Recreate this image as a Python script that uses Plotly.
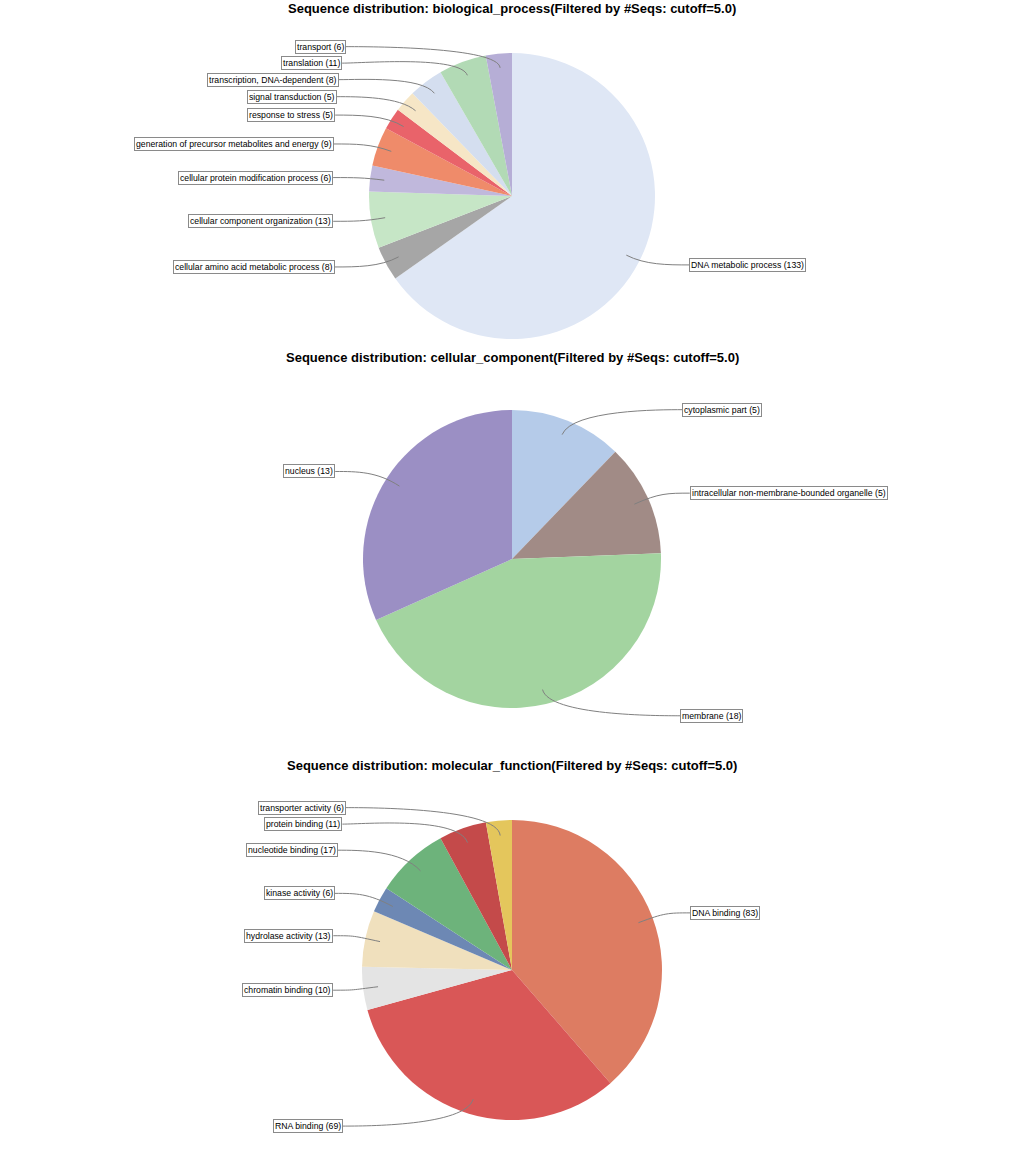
import math
import plotly.graph_objects as go

W, H = 1024, 1169

# ---------------- data ----------------
bp_title = "Sequence distribution: biological_process(Filtered by #Seqs: cutoff=5.0)"
bp_labels = ["DNA metabolic process", "cellular amino acid metabolic process",
             "cellular component organization", "cellular protein modification process",
             "generation of precursor metabolites and energy", "response to stress",
             "signal transduction", "transcription, DNA-dependent", "translation", "transport"]
bp_values = [133, 8, 13, 6, 9, 5, 5, 8, 11, 6]
bp_colors = ["#dfe7f5", "#a6a6a6", "#c6e6c6", "#c0b8dc", "#ef8b6a",
             "#e9636a", "#f6e6c6", "#d4deef", "#b2dab5", "#b6aed6"]

cc_title = "Sequence distribution: cellular_component(Filtered by #Seqs: cutoff=5.0)"
cc_labels = ["cytoplasmic part", "intracellular non-membrane-bounded organelle",
             "membrane", "nucleus"]
cc_values = [5, 5, 18, 13]
cc_colors = ["#b5cbe9", "#a18b86", "#a3d4a0", "#9b8fc4"]

mf_title = "Sequence distribution: molecular_function(Filtered by #Seqs: cutoff=5.0)"
mf_labels = ["DNA binding", "RNA binding", "chromatin binding", "hydrolase activity",
             "kinase activity", "nucleotide binding", "protein binding", "transporter activity"]
mf_values = [83, 69, 10, 13, 6, 17, 11, 6]
mf_colors = ["#dd7c62", "#d95757", "#e4e4e4", "#f0e0bd",
             "#6d88b4", "#6db37b", "#c44a4a", "#e4c65c"]

# ---------------- layout helpers ----------------
fig = go.Figure()
shapes = []
annotations = []


def px(x):
    return x / W


def py(y):
    return 1 - y / H


def add_pie(title, labels, values, colors, title_y, cy, r, rl, gap=16.5):
    cx = W / 2
    fig.add_trace(go.Pie(
        labels=labels, values=values, sort=False, direction="clockwise", rotation=0,
        marker=dict(colors=colors, line=dict(width=0)),
        textinfo="none", hoverinfo="label+value+percent", showlegend=False,
        domain=dict(x=[0, 1], y=[py(cy + r), py(cy - r)]),
    ))
    annotations.append(dict(
        text="<b>%s</b>" % title, x=0.5, y=py(title_y), xref="paper", yref="paper",
        xanchor="center", yanchor="middle", showarrow=False,
        font=dict(family="Liberation Sans, Arial", size=13, color="black")))

    total = float(sum(values))
    cum = 0.0
    recs = []
    for lab, v in zip(labels, values):
        a0 = cum / total * 360.0
        cum += v
        a1 = cum / total * 360.0
        mid = math.radians((a0 + a1) / 2)
        ux, uy = math.sin(mid), -math.cos(mid)
        side = "right" if ux > 0 else "left"
        recs.append(dict(text="%s (%d)" % (lab, v), ux=ux, uy=uy, side=side,
                         y=cy + rl * uy))
    for side in ("left", "right"):
        group = sorted([d for d in recs if d["side"] == side], key=lambda d: d["y"])
        prev = None
        for d in group:
            if prev is not None and d["y"] < prev + gap:
                d["y"] = prev + gap
            prev = d["y"]
    for d in recs:
        ux, uy = d["ux"], d["uy"]
        lx, ly = cx + 0.9 * r * ux, cy + 0.9 * r * uy
        ex, ey = cx + rl * ux, cy + rl * uy
        off = 165 + 14 * abs(ux)
        if d["side"] == "right":
            tx = cx + off
            cx2 = tx - 22
            xanchor = "left"
        else:
            tx = cx - off
            cx2 = tx + 22
            xanchor = "right"
        ty = d["y"]
        path = "M %.5f,%.5f C %.5f,%.5f %.5f,%.5f %.5f,%.5f" % (
            px(lx), py(ly), px(ex), py(ey), px(cx2), py(ty), px(tx), py(ty))
        shapes.append(dict(type="path", path=path, xref="paper", yref="paper",
                           line=dict(color="#808080", width=1)))
        annotations.append(dict(
            text=d["text"], x=px(tx), y=py(ty), xref="paper", yref="paper",
            xanchor=xanchor, yanchor="middle", showarrow=False,
            bgcolor="white", bordercolor="#8a8a8a", borderwidth=1, borderpad=1,
            font=dict(family="Liberation Sans, Arial", size=8.7, color="black")))


add_pie(bp_title, bp_labels, bp_values, bp_colors, title_y=9, cy=196, r=143, rl=150)
add_pie(cc_title, cc_labels, cc_values, cc_colors, title_y=357, cy=559, r=149, rl=161)
add_pie(mf_title, mf_labels, mf_values, mf_colors, title_y=765, cy=970, r=150, rl=163)

fig.update_layout(
    width=W, height=H, margin=dict(l=0, r=0, t=0, b=0),
    paper_bgcolor="white", plot_bgcolor="white",
    shapes=shapes, annotations=annotations,
)

fig.write_html("out.html")
